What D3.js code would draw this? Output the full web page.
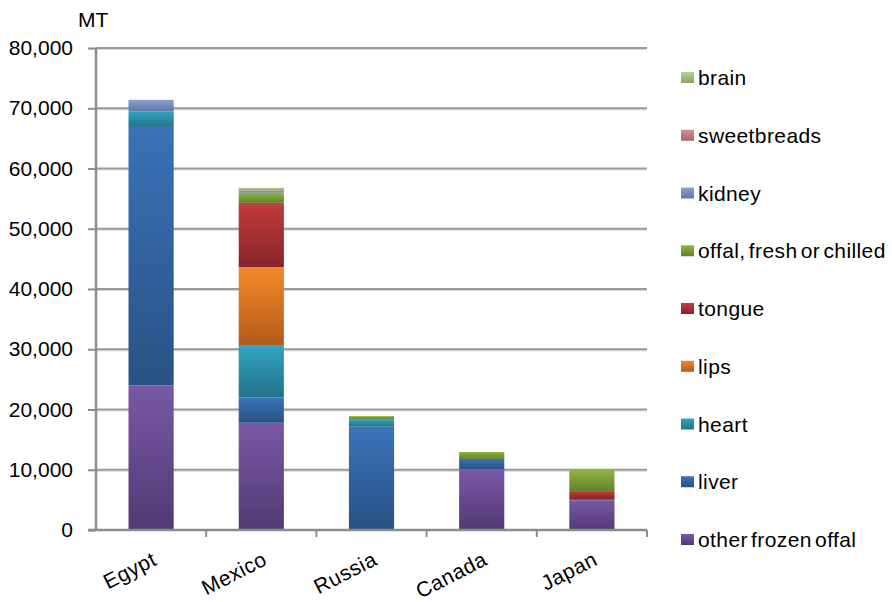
<!DOCTYPE html>
<html>
<head>
<meta charset="utf-8">
<script src="https://cdn.jsdelivr.net/npm/d3@7"></script>
<style>
  html, body { margin: 0; padding: 0; background: #fff; }
  svg { display: block; font-family: "Liberation Sans", Arial, sans-serif; }
</style>
</head>
<body>
<svg id="chart" width="892" height="602"></svg>
<script>
// Offal exports by destination, metric tonnes
const countries = ["Egypt", "Mexico", "Russia", "Canada", "Japan"];
const seriesNames = ["other frozen offal", "liver", "heart", "lips", "tongue",
  "offal, fresh or chilled", "kidney", "sweetbreads", "brain"];
const otherFrozen = [24000, 17800, 0, 10100, 4900];
const liver       = [42900, 4200, 17150, 1700, 250];
const heart       = [2600, 8700, 1250, 0, 0];
const lips        = [0, 12950, 0, 0, 0];
const tongue      = [0, 10650, 0, 0, 1300];
const offalFresh  = [0, 1700, 500, 1150, 3550];
const kidney      = [1900, 300, 0, 0, 0];
const sweetbreads = [0, 100, 0, 0, 0];
const brain       = [0, 400, 0, 0, 0];
const yTicks = [0, 10000, 20000, 30000, 40000, 50000, 60000, 70000, 80000];

// light (top) and dark (bottom) shade for each series
const shades = [
  ["#7858a4", "#523a74"],
  ["#3a72b8", "#285284"],
  ["#33a5c2", "#22728a"],
  ["#f28a2a", "#b45a1a"],
  ["#c23c3c", "#86242a"],
  ["#92b440", "#62802a"],
  ["#87a2d3", "#6276a2"],
  ["#da8f90", "#a86466"],
  ["#b6d38e", "#88a566"]
];

const columns = [otherFrozen, liver, heart, lips, tongue, offalFresh, kidney, sweetbreads, brain];
const table = countries.map((c, i) => {
  const row = { country: c };
  seriesNames.forEach((s, k) => { row[s] = columns[k][i]; });
  return row;
});

const svg = d3.select("#chart");
const m = { left: 96, right: 647, top: 48, bottom: 530 };

const x = d3.scaleBand().domain(countries).range([m.left, m.right]).paddingInner(0.59).paddingOuter(0.295);
const xBand = d3.scaleBand().domain(countries).range([m.left, m.right]);
const y = d3.scaleLinear().domain([0, 80000]).range([m.bottom, m.top]);

// gradients
const defs = svg.append("defs");
shades.forEach((s, k) => {
  const g = defs.append("linearGradient").attr("id", "g" + k)
    .attr("x1", 0).attr("y1", 0).attr("x2", 0).attr("y2", 1);
  g.append("stop").attr("offset", "0%").attr("stop-color", s[0]);
  g.append("stop").attr("offset", "100%").attr("stop-color", s[1]);
});

// horizontal gridlines
const grid = svg.append("g");
yTicks.filter(t => t > 0).forEach(t => {
  grid.append("line").attr("x1", m.left).attr("x2", m.right)
    .attr("y1", y(t) + 1.5).attr("y2", y(t) + 1.5)
    .attr("stroke", "#d9d9d9").attr("stroke-width", 1);
  grid.append("line").attr("x1", m.left).attr("x2", m.right)
    .attr("y1", y(t)).attr("y2", y(t))
    .attr("stroke", "#999").attr("stroke-width", 2);
});

// stacked bars
const stack = d3.stack().keys(seriesNames)(table);
svg.append("g").selectAll("g").data(stack).join("g")
  .attr("fill", (d, k) => `url(#g${k})`)
  .selectAll("rect").data(d => d.filter(p => p[1] - p[0] > 0)).join("rect")
  .attr("x", d => x(d.data.country))
  .attr("width", x.bandwidth())
  .attr("y", d => y(d[1]))
  .attr("height", d => y(d[0]) - y(d[1]));

// y axis
const yAxis = d3.axisLeft(y).tickValues(yTicks).tickSize(8).tickPadding(15)
  .tickFormat(d3.format(","));
const ya = svg.append("g").attr("transform", `translate(${m.left},0)`).call(yAxis);
ya.select(".domain").attr("stroke", "#8c8c8c").attr("stroke-width", 2.5)
  .attr("d", `M0,${m.top}V${m.bottom + 1}`);
ya.selectAll(".tick line").attr("stroke", "#8c8c8c").attr("stroke-width", 2);
ya.selectAll(".tick text").attr("font-size", 21).attr("fill", "#000")
  .attr("font-family", "'Liberation Sans', Arial, sans-serif");

// x axis
const xa = svg.append("g").attr("transform", `translate(0,${m.bottom})`);
xa.append("line").attr("x1", m.left - 8).attr("x2", m.right).attr("y1", 0).attr("y2", 0)
  .attr("stroke", "#8c8c8c").attr("stroke-width", 2.5);
const edges = countries.map(c => xBand(c)).concat([m.right]);
edges.slice(1).forEach(e => {
  xa.append("line").attr("x1", e).attr("x2", e).attr("y1", 0).attr("y2", 7)
    .attr("stroke", "#8c8c8c").attr("stroke-width", 2);
});
countries.forEach(c => {
  const cx = xBand(c) + xBand.bandwidth() / 2 + 7;
  xa.append("text").attr("transform", `translate(${cx},34) rotate(-27)`)
    .attr("text-anchor", "end").attr("font-size", 21).attr("fill", "#000")
    .attr("letter-spacing", 0.5)
    .text(c);
});

// unit label
svg.append("text").attr("x", 78).attr("y", 27).attr("font-size", 21).attr("fill", "#000").text("MT");

// legend, top entry is the top of the stack
const legend = svg.append("g");
seriesNames.slice().reverse().forEach((s, i) => {
  const k = seriesNames.length - 1 - i;
  const cy = 77.5 + i * 57.75;
  legend.append("rect").attr("x", 681).attr("y", cy - 5.5).attr("width", 13).attr("height", 11)
    .attr("fill", `url(#g${k})`);
  legend.append("text").attr("x", 698).attr("y", cy + 7.5).attr("font-size", 21)
    .attr("letter-spacing", 0.4).attr("word-spacing", -3).attr("fill", "#000").text(s);
});
</script>
</body>
</html>
